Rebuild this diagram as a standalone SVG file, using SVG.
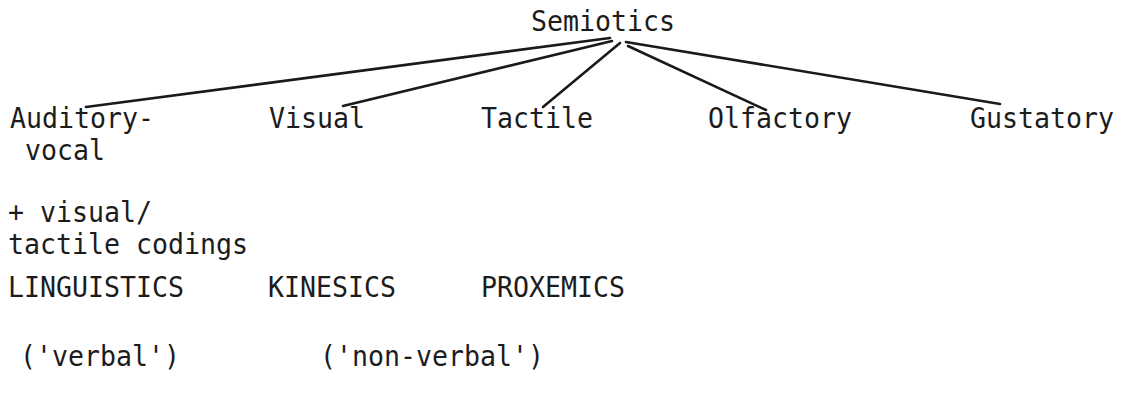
<svg xmlns="http://www.w3.org/2000/svg" width="1126" height="395" viewBox="0 0 1126 395">
<style>
text{font-family:"DejaVu Sans Mono","Liberation Mono",monospace;font-size:28px;fill:#1c1c1c;}
.c line{stroke:#1a1a1a;stroke-width:2.6;stroke-linecap:round;fill:none;}
</style>
<rect width="1126" height="395" fill="#fff"/>
<g class="c" id="connectors">
<line x1="610" y1="38" x2="86" y2="107"/>
<line x1="612" y1="41" x2="343" y2="106"/>
<line x1="620" y1="43" x2="543" y2="107"/>
<line x1="628" y1="46" x2="766" y2="110"/>
<line x1="626" y1="42" x2="1000" y2="104"/>
</g>
<g id="semiotics"><text x="531" y="31" textLength="144" lengthAdjust="spacingAndGlyphs">Semiotics</text></g>
<g id="auditory"><text x="10" y="128" textLength="144" lengthAdjust="spacingAndGlyphs">Auditory-</text><text x="25" y="160" textLength="80" lengthAdjust="spacingAndGlyphs">vocal</text></g>
<g id="visual"><text x="269" y="128" textLength="96" lengthAdjust="spacingAndGlyphs">Visual</text></g>
<g id="tactile"><text x="481" y="128" textLength="112" lengthAdjust="spacingAndGlyphs">Tactile</text></g>
<g id="olfactory"><text x="708" y="128" textLength="144" lengthAdjust="spacingAndGlyphs">Olfactory</text></g>
<g id="gustatory"><text x="970" y="128" textLength="144" lengthAdjust="spacingAndGlyphs">Gustatory</text></g>
<g id="codings"><text x="8" y="222" textLength="144" lengthAdjust="spacingAndGlyphs">+ visual/</text><text x="8" y="254" textLength="240" lengthAdjust="spacingAndGlyphs">tactile codings</text></g>
<g id="linguistics"><text x="8" y="297" textLength="176" lengthAdjust="spacingAndGlyphs">LINGUISTICS</text></g>
<g id="kinesics"><text x="268" y="297" textLength="128" lengthAdjust="spacingAndGlyphs">KINESICS</text></g>
<g id="proxemics"><text x="481" y="297" textLength="144" lengthAdjust="spacingAndGlyphs">PROXEMICS</text></g>
<g id="verbal"><text x="20" y="366" textLength="160" lengthAdjust="spacingAndGlyphs">('verbal')</text></g>
<g id="nonverbal"><text x="320" y="366" textLength="224" lengthAdjust="spacingAndGlyphs">('non-verbal')</text></g>
</svg>
